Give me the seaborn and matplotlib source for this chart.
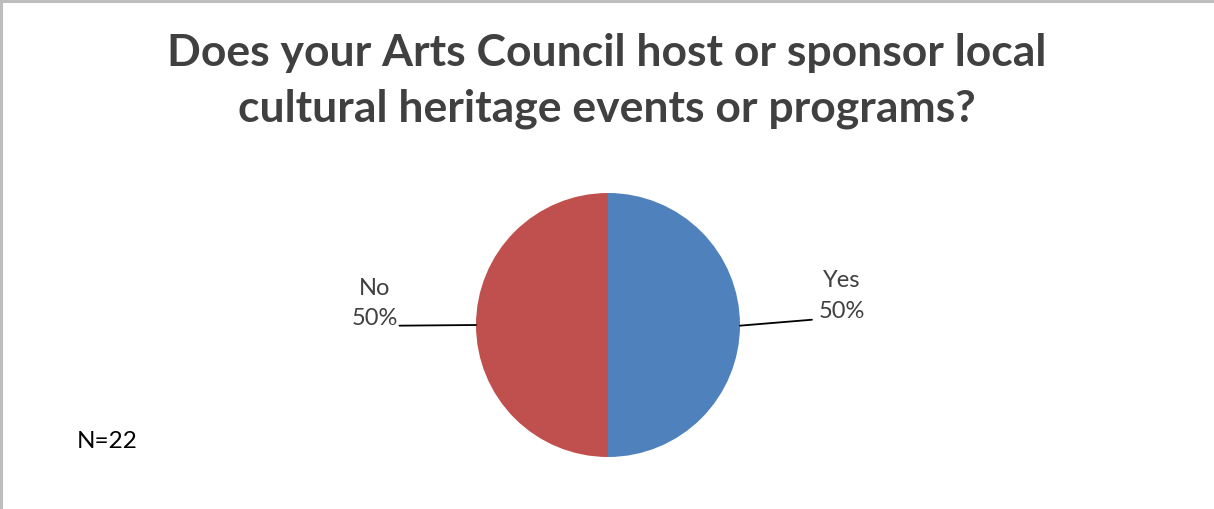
import matplotlib
matplotlib.use("Agg")
import matplotlib.pyplot as plt
import seaborn as sns
import numpy as np

# Survey responses
categories = ["Yes", "No"]
shares = [50, 50]
sample_note = "N=22"
title = "Does your Arts Council host or sponsor local\ncultural heritage events or programs?"

sns.set_theme(style="white")
plt.rcParams["font.family"] = ["Lato", "DejaVu Sans"]

colors = ["#4F81BD", "#C0504D"]

fig = plt.figure(figsize=(12.14, 5.09), dpi=100)
fig.patch.set_facecolor("white")

# Thin frame along the top and left edges
fig.add_artist(plt.Line2D([0.001, 0.001], [0, 1], color="#BDBDBD", lw=2.2, transform=fig.transFigure))
fig.add_artist(plt.Line2D([0, 1], [0.999, 0.999], color="#BDBDBD", lw=2.2, transform=fig.transFigure))

W, H = 1214, 509
cx, cy, r = 608, 325, 132
ax = fig.add_axes([(cx - r) / W, (H - cy - r) / H, 2 * r / W, 2 * r / H])
wedges, _ = ax.pie(shares, colors=colors, startangle=90, counterclock=False,
                   radius=1.0, wedgeprops=dict(linewidth=0))
ax.set_xlim(-1, 1)
ax.set_ylim(-1, 1)
ax.set_aspect("equal")
ax.axis("off")

text_color = "#404040"
# Label placement for each slice: (line end x, line end y, text x, label y, pct y)
layout = {
    "Yes": (1.545, 0.04, 1.77, 0.34, 0.10),
    "No": (-1.58, -0.005, -1.765, 0.28, 0.05),
}
for w, cat, val in zip(wedges, categories, shares):
    mid = np.deg2rad((w.theta1 + w.theta2) / 2)
    sx, sy = np.cos(mid), np.sin(mid) - (0.005 if cat == "Yes" else 0.0)
    ex, ey, tx, ly, py = layout[cat]
    ax.plot([sx, ex], [sy, ey], color="black", lw=1.3, clip_on=False)
    ax.text(tx, ly, cat, ha="center", va="center", fontsize=17, color=text_color, clip_on=False)
    ax.text(tx, py, f"{val}%", ha="center", va="center", fontsize=17, color=text_color, clip_on=False)

fig.text(0.5, 1 - 81 / H, title, ha="center", va="center", fontsize=32,
         fontweight="bold", color=text_color, linespacing=1.45)
fig.text(77 / W, 1 - 441 / H, sample_note, ha="left", va="center", fontsize=17.5, color="black")

fig.savefig("out.png", dpi=100, facecolor="white")
